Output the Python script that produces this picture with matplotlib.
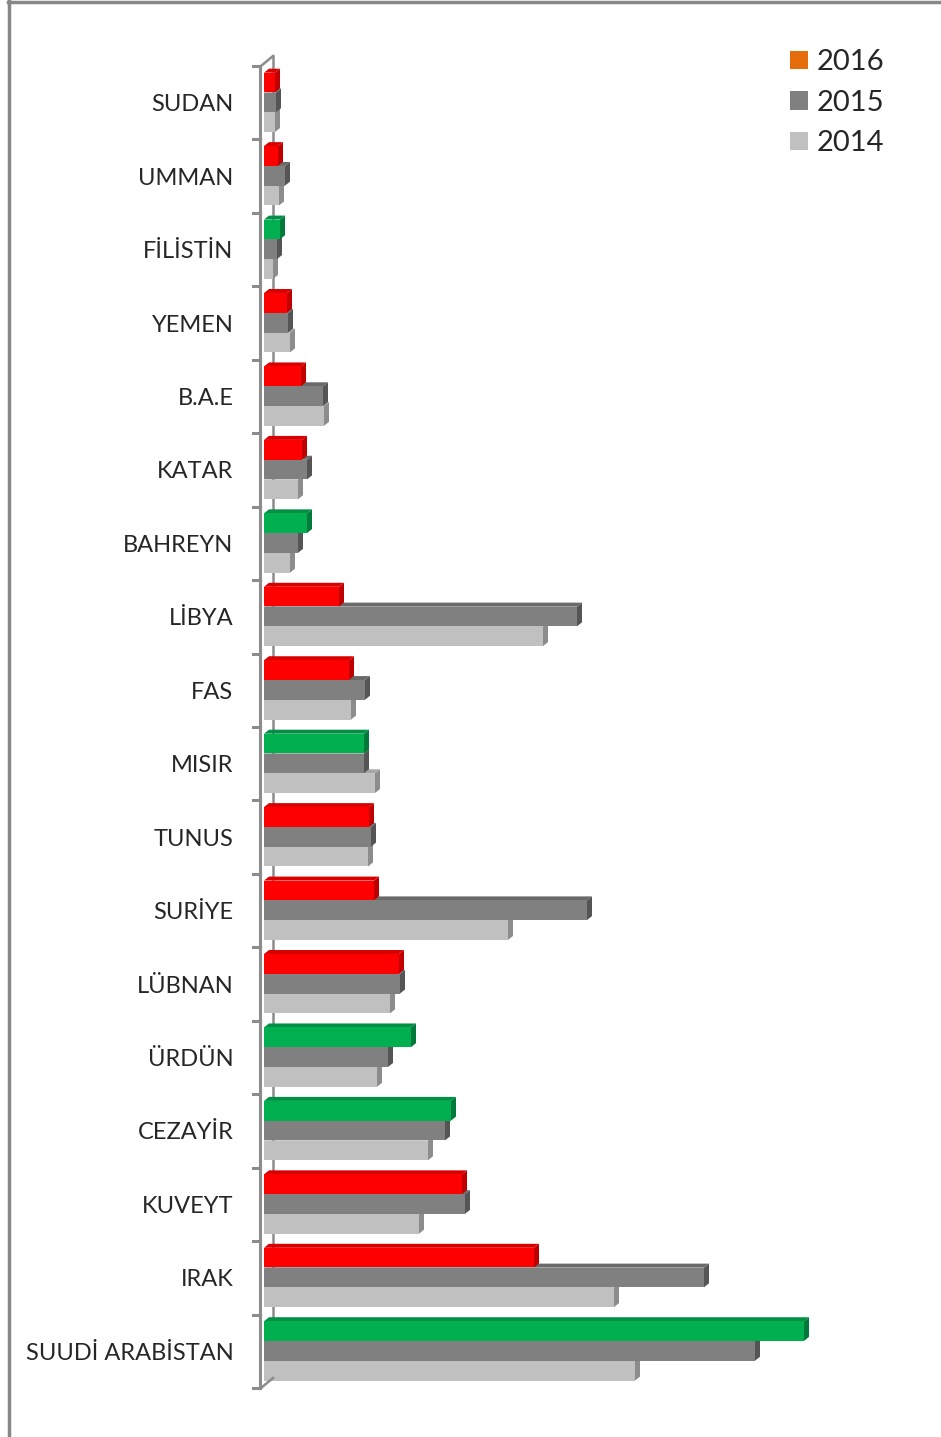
import matplotlib
matplotlib.use("Agg")
import matplotlib.pyplot as plt
from matplotlib.patches import Polygon, Patch
from matplotlib.lines import Line2D

plt.rcParams['font.family'] = ['Lato', 'DejaVu Sans']

categories = ["SUDAN", "UMMAN", "FİLİSTİN", "YEMEN", "B.A.E", "KATAR", "BAHREYN",
              "LİBYA", "FAS", "MISIR", "TUNUS", "SURİYE", "LÜBNAN", "ÜRDÜN",
              "CEZAYİR", "KUVEYT", "IRAK", "SUUDİ ARABİSTAN"]
v2016 = [11, 14, 16, 23, 37, 38, 43, 75, 85, 100, 105, 110, 135, 147, 187, 198, 270, 540]
v2015 = [12, 21, 13, 24, 59, 43, 34, 313, 101, 100, 107, 323, 136, 124, 181, 201, 440, 491]
v2014 = [11, 15, 9, 26, 60, 34, 26, 279, 87, 111, 104, 244, 126, 113, 164, 155, 350, 371]
trend2016 = ["r", "r", "g", "r", "r", "r", "g", "r", "r", "g", "r", "r", "r", "g", "g", "r", "r", "g"]
years = ["2016", "2015", "2014"]

face = {"r": "#FF0000", "g": "#00B050", "2015": "#808080", "2014": "#C0C0C0"}
side = {"r": "#C00000", "g": "#007A3A", "2015": "#555555", "2014": "#8C8C8C"}
top = {"r": "#D80000", "g": "#008F45", "2015": "#6A6A6A", "2014": "#A6A6A6"}
legend_colors = {"2016": "#E46C0A", "2015": "#808080", "2014": "#C0C0C0"}

W, H = 941, 1437
fig = plt.figure(figsize=(W / 100, H / 100), dpi=100)
x0, x1 = 264, 900
y_top, y_bot = 66, 1388
ax = fig.add_axes([x0 / W, 1 - y_bot / H, (x1 - x0) / W, (y_bot - y_top) / H])
n = len(categories)
ax.set_xlim(0, x1 - x0)
ax.set_ylim(n - 0.5, -0.5)

slot_px = (y_bot - y_top) / n
dx = 5.0
dy = 4.0 / slot_px
h = 0.268
offsets = {"2016": -0.275, "2015": -0.005, "2014": 0.265}

z = 2
for i in range(n - 1, -1, -1):
    for yr in ["2014", "2015", "2016"]:
        if yr == "2016":
            v = v2016[i]; key = trend2016[i]
        elif yr == "2015":
            v = v2015[i]; key = "2015"
        else:
            v = v2014[i]; key = "2014"
        yc = i + offsets[yr]
        yt = yc - h / 2
        yb = yc + h / 2
        ax.add_patch(Polygon([(v, yb), (v + dx, yb - dy), (v + dx, yt - dy), (v, yt)],
                             closed=True, facecolor=side[key], edgecolor="none", zorder=z))
        ax.add_patch(Polygon([(0, yt), (dx, yt - dy), (v + dx, yt - dy), (v, yt)],
                             closed=True, facecolor=top[key], edgecolor="none", zorder=z))
        ax.barh(yc, v, height=h, left=0, color=face[key], edgecolor="none", zorder=z + 1)
        z += 2

# 3D axis wall lines
axis_col = "#8C8C8C"
wx, wy = 9, 10.0 / slot_px
ax.plot([wx, wx], [-0.5 - wy, n - 0.5 - wy], color=axis_col, lw=1.8, zorder=1, clip_on=False)
ax.plot([-4, -4], [-0.5, n - 0.5], color=axis_col, lw=2.2, zorder=1000, clip_on=False)
ax.plot([-3, wx], [-0.5, -0.5 - wy], color=axis_col, lw=1.8, zorder=1000, clip_on=False)
ax.plot([-3, wx], [n - 0.5, n - 0.5 - wy], color=axis_col, lw=1.8, zorder=1000, clip_on=False)
for k in range(n + 1):
    ax.plot([-11, -4], [k - 0.5, k - 0.5], color=axis_col, lw=2.2, zorder=1000, clip_on=False)

for s in ax.spines.values():
    s.set_visible(False)
ax.set_xticks([])
ax.set_yticks(range(n))
ax.set_yticklabels(categories, fontsize=17, color="#262626")
ax.tick_params(axis="y", length=0, pad=22)
ax.set_facecolor("none")

handles = [Patch(facecolor=legend_colors[y], edgecolor="none", label=y) for y in years]
ax.legend(handles=handles, loc="upper left", bbox_to_anchor=(764 / W, 1 - 23 / H),
          bbox_transform=fig.transFigure, frameon=False, fontsize=21,
          handlelength=0.6, handleheight=0.6, handletextpad=0.3, labelspacing=0.5,
          labelcolor="#262626")

fig.add_artist(Line2D([9 / W, 9 / W], [0, 1], color="#878787", lw=2.5, transform=fig.transFigure))
fig.add_artist(Line2D([8 / W, 1], [1 - 1.5 / H, 1 - 1.5 / H], color="#878787", lw=2.5, transform=fig.transFigure))

fig.savefig("out.png", dpi=100)
